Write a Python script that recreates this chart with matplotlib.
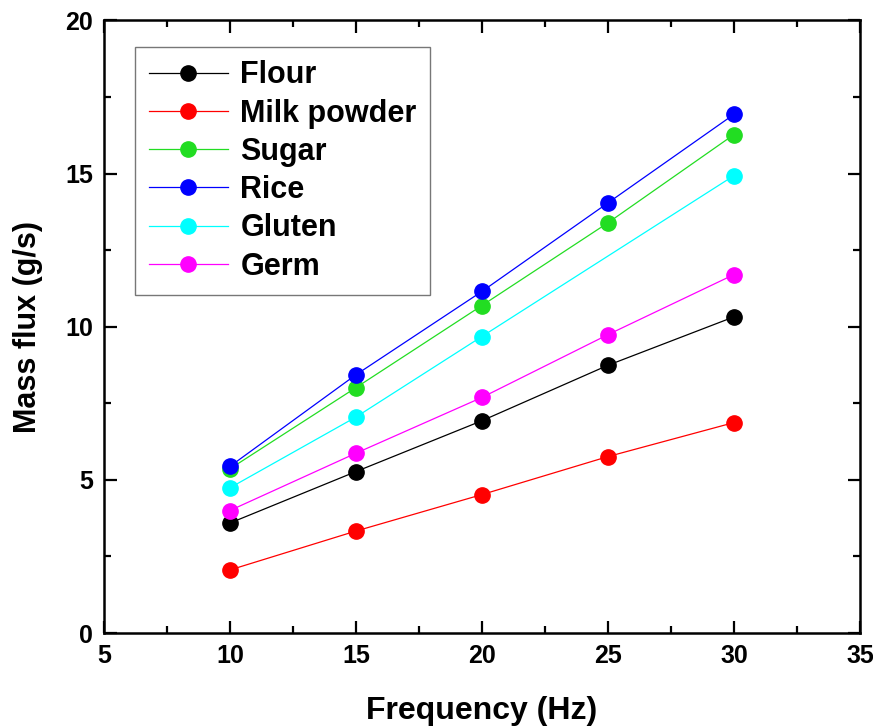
import matplotlib
matplotlib.use("Agg")
import matplotlib.pyplot as plt
from matplotlib.ticker import MultipleLocator

plt.rcParams['font.family'] = ['Liberation Sans', 'DejaVu Sans']
plt.rcParams['font.weight'] = 'bold'

# data
freq = [10, 15, 20, 25, 30]
flour = [3.59, 5.27, 6.93, 8.74, 10.32]
milk = [2.06, 3.33, 4.52, 5.76, 6.87]
sugar = [5.36, 8.01, 10.69, 13.39, 16.27]
rice = [5.44, 8.43, 11.15, 14.04, 16.93]
gluten_freq = [10, 15, 20, 30]
gluten = [4.74, 7.05, 9.68, 14.93]
germ = [4.00, 5.87, 7.69, 9.74, 11.70]

fig = plt.figure(figsize=(8.73, 7.26), dpi=100)
ax = fig.add_axes([0.119, 0.128, 0.866, 0.844])

series = [
    (freq, flour, 'black', 'Flour'),
    (freq, milk, 'red', 'Milk powder'),
    (freq, sugar, '#22dd22', 'Sugar'),
    (freq, rice, 'blue', 'Rice'),
    (gluten_freq, gluten, 'cyan', 'Gluten'),
    (freq, germ, 'magenta', 'Germ'),
]
for x, y, c, lab in series:
    ax.plot(x, y, '-', color=c, lw=0.9, marker='o', ms=11,
            mfc=c, mec=c, label=lab)

ax.set_xlim(5, 35)
ax.set_ylim(0, 20)
ax.xaxis.set_major_locator(MultipleLocator(5))
ax.xaxis.set_minor_locator(MultipleLocator(2.5))
ax.yaxis.set_major_locator(MultipleLocator(5))
ax.yaxis.set_minor_locator(MultipleLocator(2.5))
ax.tick_params(which='both', direction='in', top=True, right=True,
               width=1.6, labelsize=18, pad=8)
ax.tick_params(which='major', length=9)
ax.tick_params(which='minor', length=5)
for s in ax.spines.values():
    s.set_linewidth(1.8)

ax.set_xlabel('Frequency (Hz)', fontsize=23, fontweight='bold', labelpad=20)
ax.set_ylabel('Mass flux (g/s)', fontsize=22, fontweight='bold', labelpad=16)

leg = ax.legend(loc='upper left', bbox_to_anchor=(0.041, 0.957),
                borderaxespad=0, fontsize=22, frameon=True, fancybox=False,
                handlelength=2.6, handletextpad=0.4, labelspacing=0.27,
                borderpad=0.45)
leg.get_frame().set_edgecolor('#555555')
leg.get_frame().set_linewidth(1.0)

fig.savefig('out.png', dpi=100)
